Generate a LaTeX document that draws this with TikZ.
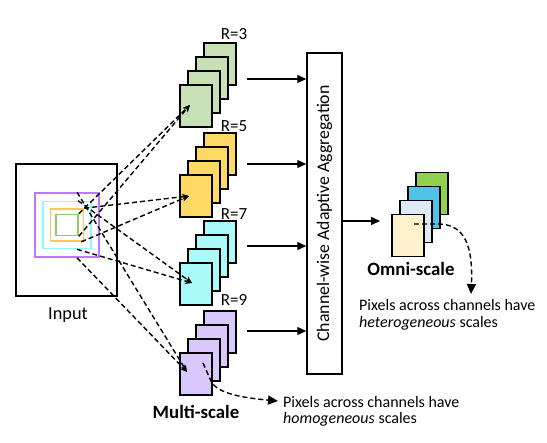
\documentclass[tikz,border=0pt]{standalone}
\usepackage{fontspec}
\setmainfont{Carlito}
\usetikzlibrary{arrows.meta,calc}
\definecolor{cardG}{RGB}{200,224,182}
\definecolor{cardY}{RGB}{255,217,102}
\definecolor{cardC}{RGB}{170,250,250}
\definecolor{cardP}{RGB}{216,200,252}
\definecolor{sqP}{RGB}{190,120,255}
\definecolor{sqC}{RGB}{140,250,250}
\definecolor{sqY}{RGB}{255,200,80}
\definecolor{sqG}{RGB}{150,200,110}
\definecolor{omA}{RGB}{255,242,204}
\definecolor{omB}{RGB}{222,234,246}
\definecolor{omC}{RGB}{80,196,230}
\definecolor{omD}{RGB}{146,208,80}
\begin{document}
\begin{tikzpicture}[x=1pt,y=-1pt,
  card/.style={draw, line width=1.4pt, minimum width=32pt, minimum height=42pt, inner sep=0pt, fill=#1},
  sq/.style={draw=#1, line width=1.6pt, inner sep=0pt},
  solidarrow/.style={line width=1.4pt, -{Triangle[length=9pt,width=8pt]}},
  dasharrow/.style={line width=1.4pt, dash pattern=on 5pt off 3pt, -{Stealth[length=7pt,width=6pt]}},
  bigdash/.style={line width=1.4pt, dash pattern=on 5pt off 3pt, -{Triangle[length=10pt,width=9pt]}},
  lab/.style={font=\fontsize{17}{20}\selectfont, inner sep=0pt},
  note/.style={font=\fontsize{16}{16.5}\selectfont, align=left, inner sep=0pt, anchor=west}]
\useasboundingbox (0,0) rectangle (547,443);

% input
\node[draw, line width=1.5pt, minimum width=101pt, minimum height=132pt, inner sep=0pt] (input) at (66.5,230) {};
\node[sq=sqP, minimum width=64pt, minimum height=64pt] (sqp) at (67,225) {};
\node[sq=sqC, minimum width=48pt, minimum height=47pt] (sqc) at (67,225) {};
\node[sq=sqY, minimum width=33pt, minimum height=32pt] (sqy) at (67,225) {};
\node[sq=sqG, minimum width=22pt, minimum height=21pt] (sqg) at (67,225) {};
\node[font=\fontsize{18.3}{21}\selectfont, inner sep=0pt] (inlab) at (68,315) {Input};

% card stacks
\foreach \k in {3,2,1} {
  \node[card=cardG] (g\k) at (196+8*\k, 106-14*\k) {};
}
\node[card=cardG] (g0) at (196,106) {};
\foreach \k in {3,2,1} {
  \node[card=cardY] (y\k) at (196+8*\k, 196-14*\k) {};
}
\node[card=cardY] (y0) at (196,196) {};
\foreach \k in {3,2,1} {
  \node[card=cardC] (c\k) at (196+8*\k, 284-14*\k) {};
}
\node[card=cardC] (c0) at (196,284) {};
\foreach \k in {3,2,1} {
  \node[card=cardP] (p\k) at (196+8*\k, 374-14*\k) {};
}
\node[card=cardP] (p0) at (196,374) {};

\node[lab] (r3) at (234,34) {R=3};
\node[lab] (r5) at (234,126) {R=5};
\node[lab] (r7) at (234,214) {R=7};
\node[lab] (r9) at (234,300) {R=9};

% arrow ends inside front cards
\coordinate (ge) at (190,105);
\coordinate (ye) at (189,196);
\coordinate (ce) at (192,283);
\coordinate (pe) at (187,372);

\draw[dasharrow] (sqg.north east) -- (ge);
\draw[dasharrow] (sqg.south east) -- (ge);
\draw[dasharrow] (sqy.north east) -- (ye);
\draw[dasharrow] ($(sqy.south east)+(-3,0)$) -- (ye);
\draw[dasharrow] ($(sqc.north)+(11,0)$) -- (ce);
\draw[dasharrow] ($(sqc.south)+(10,0)$) -- (ce);
\draw[dasharrow] ($(sqp.north)+(10,0)$) -- (pe);
\draw[dasharrow] ($(sqp.south)+(10,0)$) -- (pe);

% aggregation box
\node[draw, line width=1.5pt, minimum width=35pt, minimum height=321pt, inner sep=0pt] (agg) at (324.5,213.5) {};
\node[rotate=90, font=\fontsize{17.8}{20}\selectfont, inner sep=0pt] (aggtext) at (agg.center) {Channel-wise Adaptive Aggregation};

\coordinate (go) at (247,79);
\coordinate (yo) at (247,164);
\coordinate (co) at (247,246);
\coordinate (po) at (247,331);
\draw[solidarrow] (go) -- (agg.west |- go);
\draw[solidarrow] (yo) -- (agg.west |- yo);
\draw[solidarrow] (co) -- (agg.west |- co);
\draw[solidarrow] (po) -- (agg.west |- po);

% omni-scale cards
\node[card=omD] (o3) at (432,193.5) {};
\node[card=omC] (o2) at (424,207.5) {};
\node[card=omB] (o1) at (416,221.5) {};
\node[card=omA] (o0) at (408,235.5) {};
\coordinate (oin) at (380,221);
\draw[solidarrow] (agg.east |- oin) -- (oin);

\node[font=\bfseries\fontsize{18.8}{21}\selectfont, inner sep=0pt] (omni) at (411,269) {Omni-scale};
\node[note] (onote) at (359,315) {Pixels across channels have\\\textit{heterogeneous} scales};
\coordinate (ostart) at (414,224);
\coordinate (oend) at (471,294);
\draw[bigdash] (ostart) -- (438,224) .. controls (466,224) and (473,248) .. (oend);

% multi-scale
\node[font=\bfseries\fontsize{18.8}{21}\selectfont, inner sep=0pt] (multi) at (196,412) {Multi-scale};
\node[note] (mnote) at (283,411.5) {Pixels across channels have\\\textit{homogeneous} scales};
\coordinate (mstart) at (203,363);
\coordinate (mend) at (278,401);
\draw[bigdash] (mstart) -- (211,381) .. controls (217,394) and (245,398) .. (mend);
\end{tikzpicture}
\end{document}
